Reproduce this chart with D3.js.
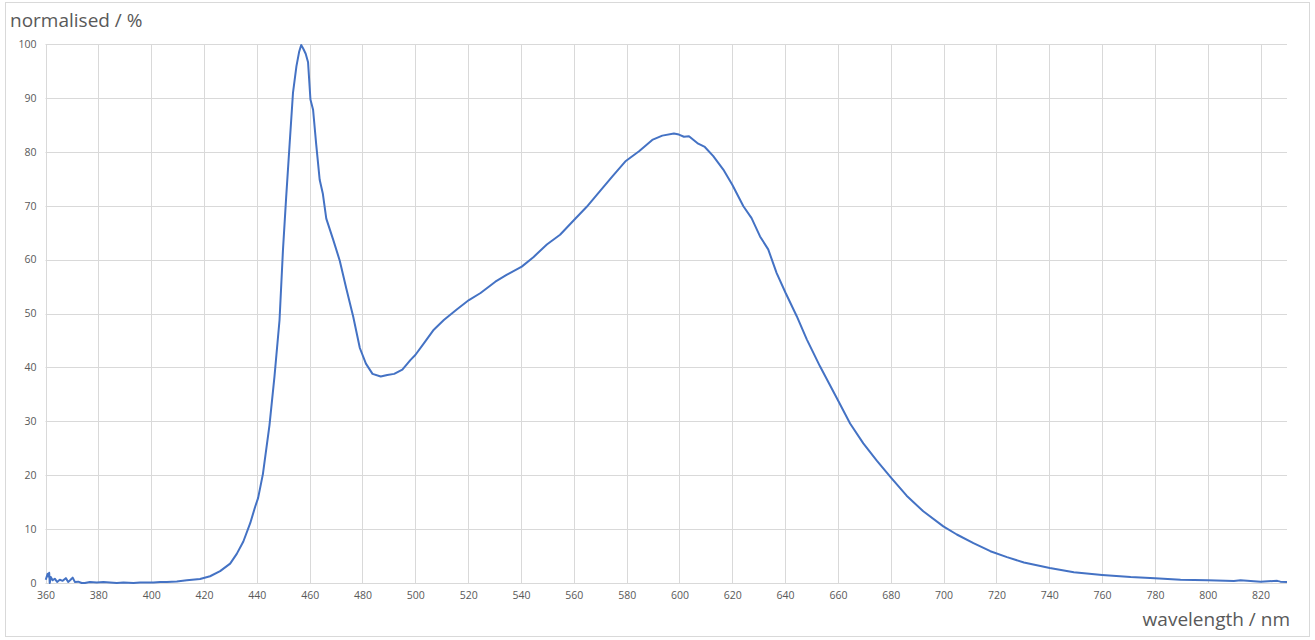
<!DOCTYPE html>
<html>
<head>
<meta charset="utf-8">
<script src="https://cdn.jsdelivr.net/npm/d3@7"></script>
<style>
  html, body { margin: 0; padding: 0; background: #fff; }
  svg { display: block; }
</style>
</head>
<body>
<svg id="chart" width="1315" height="640"></svg>
<script>
// ---- data ----
const wavelength = [
  360.1,360.8,361.1,361.4,361.6,362.0,362.7,363.5,364.4,365.4,366.5,367.7,368.6,369.5,370.3,371.1,372.4,373.7,374.9,376.8,
  379.4,381.9,384.4,387.0,389.5,393.3,395.8,398.4,400.9,403.4,405.9,409.7,413.5,418.5,422.3,426.1,429.9,432.4,434.9,437.5,
  439.4,440.5,442.3,444.8,446.7,448.6,449.9,451.1,452.4,453.7,455.0,456.0,456.8,457.5,458.5,459.4,460.3,461.3,462.5,463.8,
  465.0,466.3,468.9,471.4,473.9,476.5,479.0,481.3,483.8,486.9,489.4,492.0,495.1,498.2,500.0,503.3,507.0,510.8,515.8,520.3,
  524.7,530.3,534.7,540.3,544.8,549.8,554.8,560.0,564.9,569.9,574.7,579.7,584.7,589.7,593.5,597.9,599.8,601.7,603.6,607.1,
  609.6,612.8,616.6,620.0,624.2,627.3,630.5,633.6,636.8,640.2,644.4,648.2,653.2,659.9,664.6,669.6,674.7,680.0,686.0,692.3,
  699.9,705.0,711.3,717.7,724.0,730.4,740.2,749.3,760.0,770.8,780.0,789.7,800.0,809.9,812.4,820.0,826.3,827.5,830.0
];
const intensity = [
  0.6,1.7,1.2,1.9,0.0,1.1,0.5,0.8,0.2,0.6,0.4,0.9,0.2,0.6,1.0,0.2,0.25,0.0,0.0,0.2,
  0.1,0.2,0.1,0.0,0.1,0.0,0.1,0.1,0.1,0.2,0.2,0.3,0.5,0.75,1.25,2.2,3.6,5.4,7.7,11.1,
  14.2,15.8,20.2,29.3,38.4,48.8,61.8,71.5,81.3,91.0,95.9,98.5,99.8,99.2,98.2,96.6,89.7,87.8,81.3,74.8,
  72.2,67.6,63.7,59.8,54.6,49.4,43.6,40.7,38.8,38.3,38.6,38.8,39.6,41.4,42.3,44.5,47.0,48.8,50.8,52.5,
  53.8,55.9,57.2,58.7,60.5,62.8,64.6,67.3,69.8,72.7,75.5,78.3,80.1,82.2,83.0,83.4,83.2,82.8,82.9,81.5,
  80.9,79.2,76.7,73.9,69.9,67.7,64.3,61.9,57.5,53.8,49.5,45.2,40.2,34.0,29.6,25.9,22.7,19.6,16.2,13.3,
  10.5,9.0,7.4,5.9,4.8,3.8,2.8,2.0,1.5,1.1,0.9,0.6,0.5,0.37,0.5,0.25,0.4,0.25,0.2
];
const xTicks = [360,380,400,420,440,460,480,500,520,540,560,580,600,620,640,660,680,700,720,740,760,780,800,820];
const yTicks = [0,10,20,30,40,50,60,70,80,90,100];
const yTitle = "normalised / %";
const xTitle = "wavelength / nm";

// ---- layout ----
const svg = d3.select("#chart");
const plot = { left: 45.5, right: 1287, top: 44, bottom: 583 };
const fontFamily = "'Open Sans', 'Liberation Sans', sans-serif";
const gridColor = "#d9d9d9";
const textColor = "#595959";

// outer border
svg.append("rect")
  .attr("x", 5.5).attr("y", 2.5).attr("width", 1304).attr("height", 634)
  .attr("fill", "#fff").attr("stroke", gridColor).attr("stroke-width", 1);

const x = d3.scaleLinear().domain([360, 830]).range([plot.left, plot.right]);
const y = d3.scaleLinear().domain([0, 100]).range([plot.bottom, plot.top]);

// horizontal grid
svg.append("g")
  .selectAll("line").data(yTicks).join("line")
  .attr("x1", plot.left).attr("x2", plot.right)
  .attr("y1", d => Math.round(y(d)) + 0.5).attr("y2", d => Math.round(y(d)) + 0.5)
  .attr("stroke", gridColor).attr("stroke-width", 1);

// vertical grid
svg.append("g")
  .selectAll("line").data(xTicks).join("line")
  .attr("x1", d => Math.round(x(d)) + 0.5).attr("x2", d => Math.round(x(d)) + 0.5)
  .attr("y1", plot.top).attr("y2", plot.bottom)
  .attr("stroke", gridColor).attr("stroke-width", 1);

// y axis labels via d3 axis
const yAxis = d3.axisLeft(y).tickValues(yTicks).tickSize(0).tickPadding(0);
const gy = svg.append("g").attr("transform", `translate(${plot.left - 9},0)`).call(yAxis);
gy.select(".domain").remove();
gy.selectAll("text").attr("fill", textColor).attr("font-size", 10.5).attr("font-family", fontFamily);

// x axis labels
const xAxis = d3.axisBottom(x).tickValues(xTicks).tickSize(0).tickPadding(0).tickFormat(d3.format("d"));
const gx = svg.append("g").attr("transform", `translate(0,${plot.bottom + 9})`).call(xAxis);
gx.select(".domain").remove();
gx.selectAll("text").attr("fill", textColor).attr("font-size", 10.5).attr("font-family", fontFamily);

// line
const data = wavelength.map((w, i) => [w, intensity[i]]);
svg.append("path")
  .datum(data)
  .attr("fill", "none")
  .attr("stroke", "#4472C4")
  .attr("stroke-width", 2)
  .attr("stroke-linejoin", "round")
  .attr("d", d3.line().x(d => x(d[0])).y(d => y(d[1])));

// titles
svg.append("text")
  .attr("x", 10).attr("y", 26.5)
  .attr("fill", textColor).attr("font-size", 19).attr("font-family", fontFamily)
  .text(yTitle);
svg.append("text")
  .attr("x", 1290).attr("y", 626).attr("text-anchor", "end")
  .attr("fill", textColor).attr("font-size", 19).attr("font-family", fontFamily)
  .text(xTitle);
</script>
</body>
</html>
